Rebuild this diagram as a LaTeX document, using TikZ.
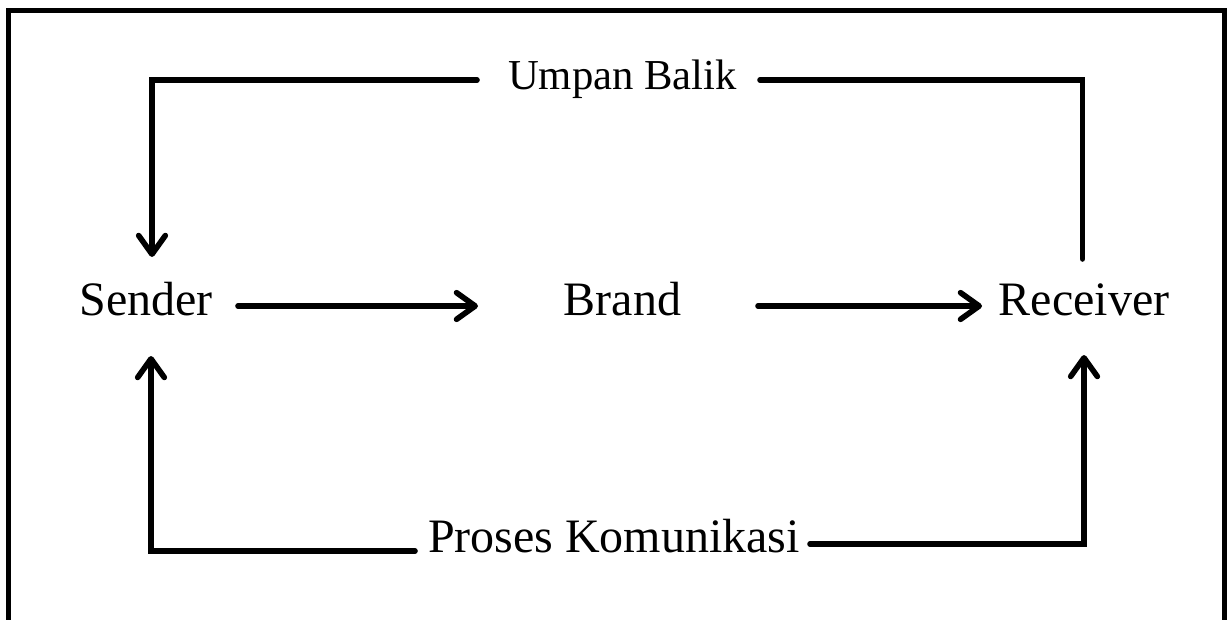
\documentclass[tikz,border=0pt]{standalone}
\usepackage{fontspec}
\setmainfont{Liberation Serif}
\usetikzlibrary{arrows.meta}
\tikzset{
  lbl/.style={anchor=base, inner sep=0pt, font=\fontsize{36}{40}\selectfont},
  lblsmall/.style={anchor=base, inner sep=0pt, font=\fontsize{32}{36}\selectfont},
  conn/.style={line width=4.2pt, line cap=round, line join=miter},
  arr/.style={conn, -{Straight Barb[length=14pt,width=20pt,round]}},
  frame/.style={line width=3.8pt}
}
\begin{document}
\begin{tikzpicture}[x=0.75pt,y=-0.75pt]
\clip (0,0) rectangle (1227,620);
\useasboundingbox (0,0) rectangle (1227,620);
\fill[white] (0,0) rectangle (1227,620);
% frame
\draw[frame] (8.5,640) -- (8.5,10.5) -- (1224.5,10.5) -- (1224.5,640);
% nodes
\node[lbl] (sender) at (146,315) {Sender};
\node[lbl] (brand) at (622.5,315) {Brand};
\node[lbl] (receiver) at (1084,315) {Receiver};
\node[lblsmall] (umpan) at (622.5,90) {Umpan Balik};
\node[lbl] (proses) at (614,552) {Proses Komunikasi};
% coordinates
\coordinate (sOut) at (238,306);
\coordinate (bIn) at (478,306);
\coordinate (bOut) at (758,306);
\coordinate (rIn) at (982,306);
\coordinate (uL) at (477,80);
\coordinate (uR) at (760,80);
\coordinate (sTop) at (152,257);
\coordinate (rTop) at (1082.5,259);
\coordinate (pL) at (415,551);
\coordinate (pR) at (810,544);
\coordinate (sBot) at (151,356);
\coordinate (rBot) at (1084,355);
% connectors
\draw[arr] (sOut) -- (bIn);
\draw[arr] (bOut) -- (rIn);
\draw[arr] (uL) -- (sTop |- uL) -- (sTop);
\draw[conn] (uR) -- (rTop |- uR) -- (rTop);
\draw[arr] (pL) -- (sBot |- pL) -- (sBot);
\draw[arr] (pR) -- (rBot |- pR) -- (rBot);
\end{tikzpicture}
\end{document}
